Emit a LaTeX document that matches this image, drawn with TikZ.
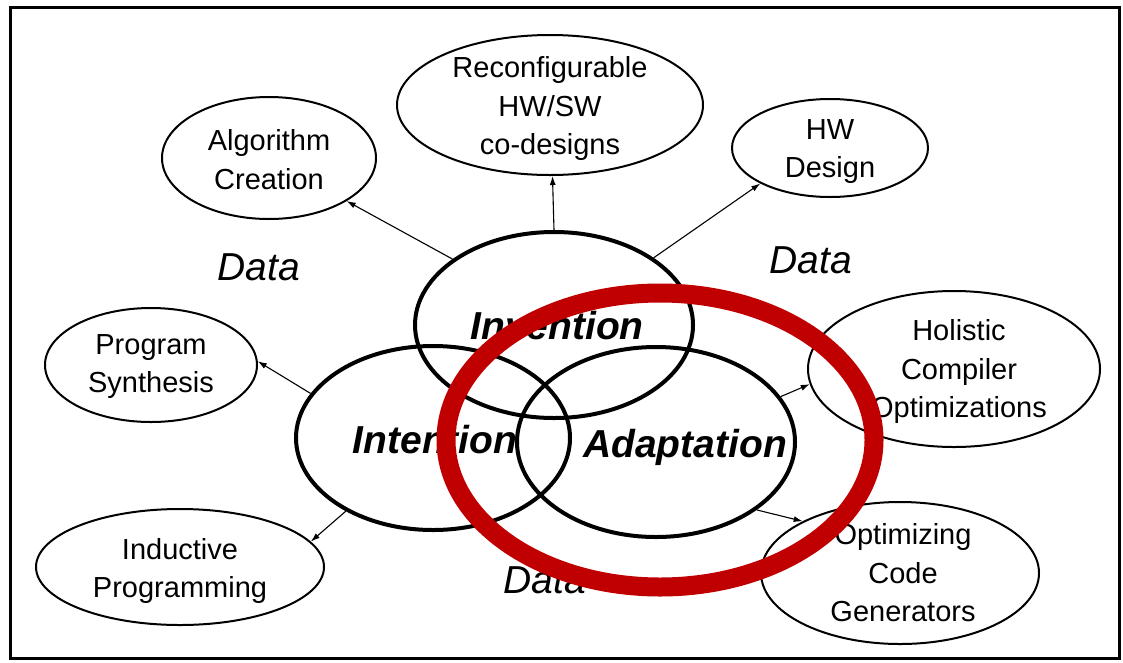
\documentclass[tikz,border=0pt]{standalone}
\usepackage{fontspec}
\setmainfont{Liberation Sans}
\usetikzlibrary{shapes.geometric,arrows.meta}
\definecolor{ringred}{RGB}{192,0,0}
\begin{document}
\begin{tikzpicture}[x=1pt,y=-1pt,
  topic/.style={ellipse, draw, line width=2pt, inner sep=0pt},
  theme/.style={ellipse, draw, line width=4pt, inner sep=0pt},
  topictext/.style={font=\fontsize{29}{38.5}\selectfont, align=center, inner sep=0pt},
  link/.style={line width=1.1pt, -{Latex[length=9pt,width=6pt]}},
  datatext/.style={font=\fontsize{39}{44}\selectfont\itshape, anchor=base, inner sep=0pt},
  themetext/.style={font=\fontsize{39}{44}\selectfont\bfseries\itshape, anchor=base, inner sep=0pt}]

% canvas and frame
\useasboundingbox (0,0) rectangle (1123,662);
\draw[line width=3pt] (10,7) rectangle (1119,658);

% outer topics
\node[topic, minimum width=214pt, minimum height=122pt] (alg) at (269,158) {};
\node[topic, minimum width=306pt, minimum height=140pt] (rec) at (550,105) {};
\node[topic, minimum width=196pt, minimum height=98pt]  (hw)  at (830,148) {};
\node[topic, minimum width=212pt, minimum height=114pt] (ps)  at (151,365) {};
\node[topic, minimum width=288pt, minimum height=116pt] (ip)  at (180,567) {};
\node[topic, minimum width=292pt, minimum height=156pt] (hol) at (954,369) {};
\node[topic, minimum width=278pt, minimum height=142pt] (ocg) at (900,573) {};

\node[topictext] (algT) at (269,159.5) {Algorithm\\Creation};
\node[topictext] (recT) at (550,108.5) {Reconfigurable\\HW/SW\\co-designs};
\node[topictext] (hwT)  at (830,151.5) {HW\\Design};
\node[topictext] (psT)  at (151,366.5) {Program\\Synthesis};
\node[topictext] (ipT)  at (180,571)   {Inductive\\Programming};
\node[topictext] (holT) at (959,371.5) {Holistic\\Compiler\\Optimizations};
\node[topictext] (ocgT) at (903,573)   {Optimizing\\Code\\Generators};

% three central themes
\node[theme, minimum width=278pt, minimum height=186pt] (inv) at (554,325) {};
\node[theme, minimum width=274pt, minimum height=184pt] (int) at (433,438) {};
\node[theme, minimum width=278pt, minimum height=190pt] (ada) at (656,442) {};

\node[themetext] (invT) at (557,339) {Invention};
\node[themetext] (intT) at (435,453) {Intention};
\node[themetext] (adaT) at (685,457) {Adaptation};

% data labels
\node[datatext] (d1) at (259,280) {Data};
\node[datatext] (d2) at (811,273) {Data};
\node[datatext] (d3) at (545,593) {Data};

% connectors
\draw[link] (inv.147) -- (alg.-29);
\draw[link] (inv.90)  -- (rec.-88);
\draw[link] (inv.34)  -- (hw.-153);
\draw[link] (int.160) -- (ps.2);
\draw[link] (int.-140) -- (ip.11);
\draw[link] (ada.20)  -- (hol.-174);
\draw[link] (ada.-34) -- (ocg.152);

% highlight ring
\node[ellipse, draw=ringred, line width=19pt, inner sep=0pt,
      minimum width=428pt, minimum height=294pt] (ring) at (660,440) {};
\end{tikzpicture}
\end{document}
